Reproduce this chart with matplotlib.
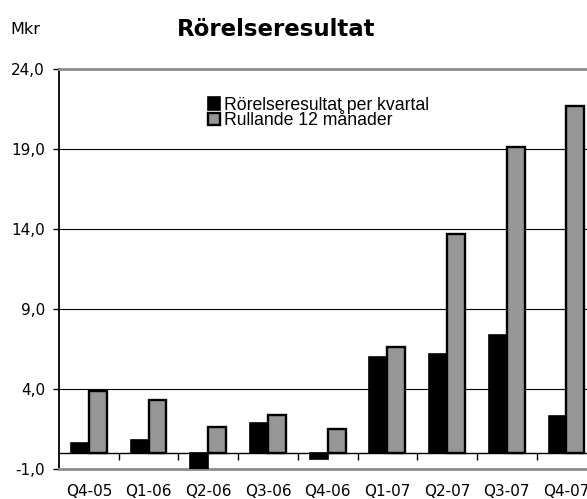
import numpy as np
import matplotlib
matplotlib.use("Agg")
import matplotlib.pyplot as plt
from matplotlib.patches import Patch

quarters = ["Q4-05", "Q1-06", "Q2-06", "Q3-06", "Q4-06", "Q1-07", "Q2-07", "Q3-07", "Q4-07"]
per_quarter = [0.6, 0.8, -1.0, 1.9, -0.4, 6.0, 6.2, 7.4, 2.3]
rolling_12m = [3.9, 3.3, 1.6, 2.4, 1.5, 6.6, 13.7, 19.1, 21.7]
yticks = [-1, 4, 9, 14, 19, 24]

W, H = 587, 499
fig = plt.figure(figsize=(W / 100, H / 100), dpi=100)
# plot area runs past the right edge, as in the original
ax = fig.add_axes([59 / W, 1 - 469 / H, 537.3 / W, 400 / H])

x = np.arange(len(quarters))
bw = 0.3
ax.bar(x - bw / 2, per_quarter, bw, color="black", edgecolor="black", linewidth=1.2, zorder=3)
ax.bar(x + bw / 2, rolling_12m, bw, color="#969696", edgecolor="black", linewidth=1.7, zorder=3)

ax.set_xlim(-0.5, len(quarters) - 0.5)
ax.set_ylim(-1, 24)
ax.set_yticks(yticks)
ax.set_yticklabels([f"{v:.1f}".replace(".", ",") for v in yticks], fontsize=11)
ax.tick_params(axis="y", length=4, width=1, pad=6, colors="black")
ax.yaxis.grid(True, color="black", linewidth=0.8)
ax.set_axisbelow(True)

ax.set_xticks(x)
ax.set_xticklabels(quarters, fontsize=11)
ax.tick_params(axis="x", length=0, pad=11)

for s in ["top", "bottom"]:
    ax.spines[s].set_color("#8c8c8c")
    ax.spines[s].set_linewidth(2)
ax.spines["right"].set_visible(False)
ax.spines["left"].set_linewidth(1.3)

# zero line with category divider ticks
zero_frac = (0 - (-1)) / (24 - (-1))
sec = ax.secondary_xaxis(zero_frac)
sec.set_xticks(x + 0.5)
sec.tick_params(axis="x", direction="out", length=5, width=1, labelbottom=False, labeltop=False,
                bottom=True, top=False)
sec.spines["bottom"].set_linewidth(1)
sec.spines["top"].set_visible(False)

handles = [Patch(facecolor="black", edgecolor="black", linewidth=1.2),
           Patch(facecolor="#969696", edgecolor="black", linewidth=1.7)]
fig.legend(handles, ["Rörelseresultat per kvartal", "Rullande 12 månader"],
           loc="upper left", bbox_to_anchor=(199 / W, 1 - 88 / H), bbox_transform=fig.transFigure,
           frameon=False, borderpad=0, handlelength=0.7, handleheight=0.7,
           handletextpad=0.2, labelspacing=-0.1,
           prop={"family": "Liberation Sans", "size": 12.7})

fig.text(276.5 / W, 1 - 36 / H, "Rörelseresultat", ha="center", va="baseline",
         fontsize=16.5, fontweight="bold")
fig.text(10 / W, 1 - 34 / H, "Mkr", ha="left", va="baseline", fontsize=11.5)

fig.savefig("out.png", dpi=100)
